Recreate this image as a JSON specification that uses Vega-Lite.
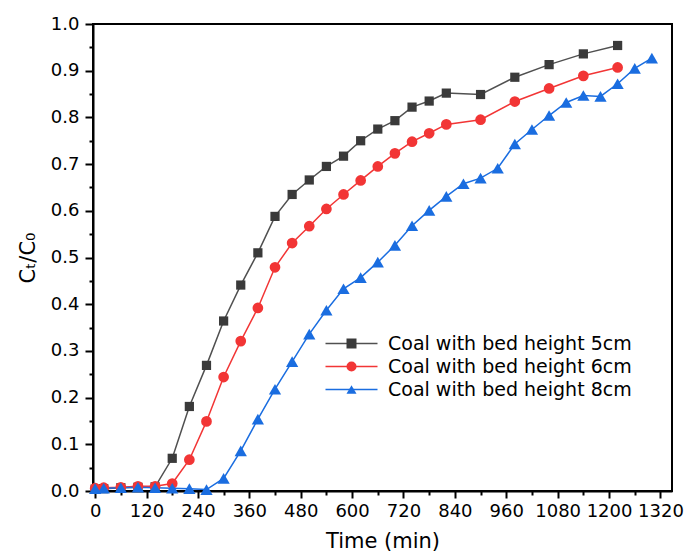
{
  "$schema": "https://vega.github.io/schema/vega-lite/v6.json",
  "width": 579,
  "height": 467,
  "autosize": {"type": "none"},
  "padding": {"left": 93, "top": 24, "right": 13, "bottom": 61},
  "background": "white",
  "config": {
    "view": {"stroke": "black", "strokeWidth": 2},
    "font": "DejaVu Sans",
    "axis": {
      "domainColor": "black",
      "domainWidth": 2,
      "tickColor": "black",
      "tickWidth": 2,
      "grid": false,
      "labelColor": "black",
      "labelFont": "DejaVu Sans",
      "labelFontSize": 18,
      "titleFont": "DejaVu Sans",
      "titleFontSize": 21,
      "titleFontWeight": "normal",
      "titleColor": "black"
    }
  },
  "data": {
    "values": [
      {"series": "Coal with bed height 5cm", "time": 0, "ratio": 0.004},
      {"series": "Coal with bed height 5cm", "time": 20, "ratio": 0.005},
      {"series": "Coal with bed height 5cm", "time": 60, "ratio": 0.007},
      {"series": "Coal with bed height 5cm", "time": 100, "ratio": 0.008},
      {"series": "Coal with bed height 5cm", "time": 140, "ratio": 0.009},
      {"series": "Coal with bed height 5cm", "time": 180, "ratio": 0.070},
      {"series": "Coal with bed height 5cm", "time": 220, "ratio": 0.181},
      {"series": "Coal with bed height 5cm", "time": 260, "ratio": 0.269},
      {"series": "Coal with bed height 5cm", "time": 300, "ratio": 0.364},
      {"series": "Coal with bed height 5cm", "time": 340, "ratio": 0.441},
      {"series": "Coal with bed height 5cm", "time": 380, "ratio": 0.510},
      {"series": "Coal with bed height 5cm", "time": 420, "ratio": 0.588},
      {"series": "Coal with bed height 5cm", "time": 460, "ratio": 0.635},
      {"series": "Coal with bed height 5cm", "time": 500, "ratio": 0.666},
      {"series": "Coal with bed height 5cm", "time": 540, "ratio": 0.695},
      {"series": "Coal with bed height 5cm", "time": 580, "ratio": 0.717},
      {"series": "Coal with bed height 5cm", "time": 620, "ratio": 0.750},
      {"series": "Coal with bed height 5cm", "time": 660, "ratio": 0.775},
      {"series": "Coal with bed height 5cm", "time": 700, "ratio": 0.793},
      {"series": "Coal with bed height 5cm", "time": 740, "ratio": 0.822},
      {"series": "Coal with bed height 5cm", "time": 780, "ratio": 0.835},
      {"series": "Coal with bed height 5cm", "time": 820, "ratio": 0.852},
      {"series": "Coal with bed height 5cm", "time": 900, "ratio": 0.849},
      {"series": "Coal with bed height 5cm", "time": 980, "ratio": 0.886},
      {"series": "Coal with bed height 5cm", "time": 1060, "ratio": 0.913},
      {"series": "Coal with bed height 5cm", "time": 1140, "ratio": 0.936},
      {"series": "Coal with bed height 5cm", "time": 1220, "ratio": 0.954},

      {"series": "Coal with bed height 6cm", "time": 0, "ratio": 0.006},
      {"series": "Coal with bed height 6cm", "time": 20, "ratio": 0.007},
      {"series": "Coal with bed height 6cm", "time": 60, "ratio": 0.008},
      {"series": "Coal with bed height 6cm", "time": 100, "ratio": 0.010},
      {"series": "Coal with bed height 6cm", "time": 140, "ratio": 0.010},
      {"series": "Coal with bed height 6cm", "time": 180, "ratio": 0.016},
      {"series": "Coal with bed height 6cm", "time": 220, "ratio": 0.067},
      {"series": "Coal with bed height 6cm", "time": 260, "ratio": 0.149},
      {"series": "Coal with bed height 6cm", "time": 300, "ratio": 0.244},
      {"series": "Coal with bed height 6cm", "time": 340, "ratio": 0.321},
      {"series": "Coal with bed height 6cm", "time": 380, "ratio": 0.392},
      {"series": "Coal with bed height 6cm", "time": 420, "ratio": 0.479},
      {"series": "Coal with bed height 6cm", "time": 460, "ratio": 0.531},
      {"series": "Coal with bed height 6cm", "time": 500, "ratio": 0.567},
      {"series": "Coal with bed height 6cm", "time": 540, "ratio": 0.604},
      {"series": "Coal with bed height 6cm", "time": 580, "ratio": 0.635},
      {"series": "Coal with bed height 6cm", "time": 620, "ratio": 0.665},
      {"series": "Coal with bed height 6cm", "time": 660, "ratio": 0.695},
      {"series": "Coal with bed height 6cm", "time": 700, "ratio": 0.723},
      {"series": "Coal with bed height 6cm", "time": 740, "ratio": 0.748},
      {"series": "Coal with bed height 6cm", "time": 780, "ratio": 0.766},
      {"series": "Coal with bed height 6cm", "time": 820, "ratio": 0.785},
      {"series": "Coal with bed height 6cm", "time": 900, "ratio": 0.795},
      {"series": "Coal with bed height 6cm", "time": 980, "ratio": 0.834},
      {"series": "Coal with bed height 6cm", "time": 1060, "ratio": 0.862},
      {"series": "Coal with bed height 6cm", "time": 1140, "ratio": 0.889},
      {"series": "Coal with bed height 6cm", "time": 1220, "ratio": 0.907},

      {"series": "Coal with bed height 8cm", "time": 0, "ratio": 0.005},
      {"series": "Coal with bed height 8cm", "time": 20, "ratio": 0.006},
      {"series": "Coal with bed height 8cm", "time": 60, "ratio": 0.007},
      {"series": "Coal with bed height 8cm", "time": 100, "ratio": 0.008},
      {"series": "Coal with bed height 8cm", "time": 140, "ratio": 0.007},
      {"series": "Coal with bed height 8cm", "time": 180, "ratio": 0.006},
      {"series": "Coal with bed height 8cm", "time": 220, "ratio": 0.005},
      {"series": "Coal with bed height 8cm", "time": 260, "ratio": 0.003},
      {"series": "Coal with bed height 8cm", "time": 300, "ratio": 0.027},
      {"series": "Coal with bed height 8cm", "time": 340, "ratio": 0.086},
      {"series": "Coal with bed height 8cm", "time": 380, "ratio": 0.154},
      {"series": "Coal with bed height 8cm", "time": 420, "ratio": 0.218},
      {"series": "Coal with bed height 8cm", "time": 460, "ratio": 0.277},
      {"series": "Coal with bed height 8cm", "time": 500, "ratio": 0.336},
      {"series": "Coal with bed height 8cm", "time": 540, "ratio": 0.387},
      {"series": "Coal with bed height 8cm", "time": 580, "ratio": 0.433},
      {"series": "Coal with bed height 8cm", "time": 620, "ratio": 0.457},
      {"series": "Coal with bed height 8cm", "time": 660, "ratio": 0.490},
      {"series": "Coal with bed height 8cm", "time": 700, "ratio": 0.526},
      {"series": "Coal with bed height 8cm", "time": 740, "ratio": 0.568},
      {"series": "Coal with bed height 8cm", "time": 780, "ratio": 0.601},
      {"series": "Coal with bed height 8cm", "time": 820, "ratio": 0.631},
      {"series": "Coal with bed height 8cm", "time": 860, "ratio": 0.658},
      {"series": "Coal with bed height 8cm", "time": 900, "ratio": 0.670},
      {"series": "Coal with bed height 8cm", "time": 940, "ratio": 0.691},
      {"series": "Coal with bed height 8cm", "time": 980, "ratio": 0.743},
      {"series": "Coal with bed height 8cm", "time": 1020, "ratio": 0.774},
      {"series": "Coal with bed height 8cm", "time": 1060, "ratio": 0.804},
      {"series": "Coal with bed height 8cm", "time": 1100, "ratio": 0.832},
      {"series": "Coal with bed height 8cm", "time": 1140, "ratio": 0.847},
      {"series": "Coal with bed height 8cm", "time": 1180, "ratio": 0.845},
      {"series": "Coal with bed height 8cm", "time": 1220, "ratio": 0.872},
      {"series": "Coal with bed height 8cm", "time": 1260, "ratio": 0.905},
      {"series": "Coal with bed height 8cm", "time": 1300, "ratio": 0.927}
    ]
  },
  "layer": [
    {
      "mark": {"type": "line", "strokeWidth": 1.5},
      "encoding": {
        "x": {
          "field": "time",
          "type": "quantitative",
          "scale": {"domain": [-5, 1347], "nice": false, "zero": false},
          "axis": {
            "orient": "bottom",
            "values": [0, 120, 240, 360, 480, 600, 720, 840, 960, 1080, 1200, 1320],
            "format": "d",
            "labelOverlap": false,
            "labelBound": false,
            "labelFlush": false,
            "tickSize": 7,
            "labelPadding": 4,
            "title": "Time (min)",
            "titlePadding": 10
          }
        },
        "y": {
          "field": "ratio",
          "type": "quantitative",
          "scale": {"domain": [0, 1], "nice": false},
          "axis": {
            "orient": "left",
            "values": [0, 0.1, 0.2, 0.3, 0.4, 0.5, 0.6, 0.7, 0.8, 0.9, 1.0],
            "format": ".1f",
            "labelOverlap": false,
            "labelBound": false,
            "labelFlush": false,
            "tickSize": 8,
            "labelPadding": 6,
            "title": "Cₜ/C₀",
            "titlePadding": 12
          }
        },
        "stroke": {
          "field": "series",
          "type": "nominal",
          "scale": {
            "domain": ["Coal with bed height 5cm", "Coal with bed height 6cm", "Coal with bed height 8cm"],
            "range": ["#505050", "#f23535", "#1a6de0"]
          },
          "legend": {
            "orient": "none",
            "legendX": 249,
            "legendY": 310,
            "title": null,
            "padding": 0,
            "symbolType": "M-5.2,0H5.2",
            "symbolSize": 100,
            "symbolStrokeWidth": 1.5,
            "labelFont": "DejaVu Sans",
            "labelFontSize": 19,
            "labelColor": "black",
            "labelOffset": 27,
            "labelLimit": 0,
            "rowPadding": 3,
            "zindex": 0
          }
        }
      }
    },
    {
      "mark": {"type": "point", "filled": true, "opacity": 1, "strokeWidth": 0},
      "encoding": {
        "x": {
          "field": "time",
          "type": "quantitative",
          "axis": {
            "orient": "bottom",
            "values": [60, 180, 300, 420, 540, 660, 780, 900, 1020, 1140, 1260],
            "labels": false,
            "domain": false,
            "tickSize": 4,
            "title": null
          }
        },
        "y": {
          "field": "ratio",
          "type": "quantitative",
          "axis": {
            "orient": "left",
            "values": [0.05, 0.15, 0.25, 0.35, 0.45, 0.55, 0.65, 0.75, 0.85, 0.95],
            "labels": false,
            "domain": false,
            "tickSize": 4,
            "title": null
          }
        },
        "color": {
          "field": "series",
          "type": "nominal",
          "scale": {"range": ["#3a3a3a", "#f23535", "#1a6de0"]},
          "legend": {
            "orient": "none",
            "legendX": 249,
            "legendY": 310,
            "title": null,
            "padding": 0,
            "symbolSize": 100,
            "labelFont": "DejaVu Sans",
            "labelFontSize": 19,
            "labelOpacity": 0,
            "labelOffset": 27,
            "labelLimit": 0,
            "rowPadding": 3,
            "zindex": 1
          }
        },
        "shape": {
          "field": "series",
          "type": "nominal",
          "scale": {"range": ["square", "circle", "triangle-up"]},
          "legend": {
            "orient": "none",
            "legendX": 249,
            "legendY": 310,
            "title": null,
            "padding": 0,
            "symbolSize": 100,
            "labelFont": "DejaVu Sans",
            "labelFontSize": 19,
            "labelOpacity": 0,
            "labelOffset": 27,
            "labelLimit": 0,
            "rowPadding": 3,
            "zindex": 1
          }
        },
        "size": {
          "condition": [
            {"test": "datum.series === 'Coal with bed height 5cm'", "value": 85},
            {"test": "datum.series === 'Coal with bed height 8cm'", "value": 150}
          ],
          "value": 115
        }
      }
    }
  ],
  "resolve": {"axis": {"x": "independent", "y": "independent"}}
}
